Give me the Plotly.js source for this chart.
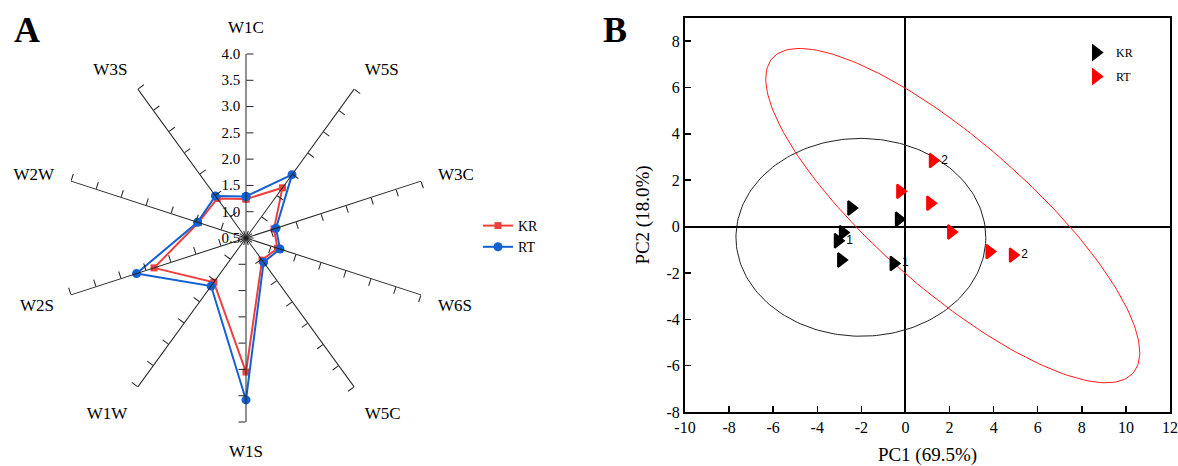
<!DOCTYPE html>
<html>
<head>
<meta charset="utf-8">
<script src="https://cdn.plot.ly/plotly-3.0.1.min.js"></script>
<style>html,body{margin:0;padding:0;background:#fff;}#chart{width:1178px;height:466px;}</style>
</head>
<body>
<div id="chart"></div>
<script>
// ---------- Panel A: radar (electronic nose sensors) ----------
const categories = ['W1C','W5S','W3C','W6S','W5C','W1S','W1W','W2S','W2W','W3S'];
const radarKR = [1.24, 1.68, 1.06, 1.13, 1.02, 3.05, 1.54, 2.34, 1.45, 1.43];
const radarRT = [1.29, 1.99, 1.10, 1.18, 1.07, 3.58, 1.63, 2.69, 1.47, 1.49];
const radialTicks = [0.5, 1.0, 1.5, 2.0, 2.5, 3.0, 3.5, 4.0];
const radialTickText = ['0.5','1.0','1.5','2.0','2.5','3.0','3.5','4.0'];

// ---------- Panel B: PCA scores ----------
const krPC1 = [-2.46, -0.30, -2.84, -3.07, -2.92, -0.54];
const krPC2 = [ 0.80,  0.32, -0.26, -0.61, -1.44, -1.59];
const krLabels = ['', '', '', '1', '', '1'];
const rtPC1 = [1.24, -0.24, 1.12, 2.07, 3.81, 4.87];
const rtPC2 = [2.85,  1.52, 1.01, -0.23, -1.08, -1.23];
const rtLabels = ['2', '', '', '', '', '2'];
const pc1Ticks = [-10, -8, -6, -4, -2, 0, 2, 4, 6, 8, 10, 12];
const pc1TickText = ['-10','-8','-6','-4','-2','0','2','4','6','8','10','12'];
const pc2Ticks = [-8, -6, -4, -2, 0, 2, 4, 6, 8];
const pc2TickText = ['-8','-6','-4','-2','0','2','4','6','8'];
const pc1Title = 'PC1 (69.5%)';
const pc2Title = 'PC2 (18.0%)';
const seriesNames = ['KR', 'RT'];

const SERIF = 'Liberation Serif, Times New Roman, serif';
const W = 1178, H = 466;
const redA = '#ee3f3f', blueA = '#1360d2';

// 95% prediction ellipse computed from the scores
function predictionEllipse(xs, ys) {
  const n = xs.length;
  const mx = xs.reduce((a, b) => a + b, 0) / n;
  const my = ys.reduce((a, b) => a + b, 0) / n;
  let sxx = 0, syy = 0, sxy = 0;
  for (let i = 0; i < n; i++) {
    sxx += (xs[i] - mx) ** 2; syy += (ys[i] - my) ** 2; sxy += (xs[i] - mx) * (ys[i] - my);
  }
  sxx /= (n - 1); syy /= (n - 1); sxy /= (n - 1);
  const d2 = n - 2;
  const F = (d2 / 2) * (Math.pow(0.05, -2 / d2) - 1);
  const k = Math.sqrt(2 * (n - 1) * (n + 1) / (n * (n - 2)) * F);
  const a = Math.sqrt(sxx), b = sxy / a, c = Math.sqrt(Math.max(syy - b * b, 0));
  const ex = [], ey = [];
  for (let j = 0; j <= 200; j++) {
    const t = 2 * Math.PI * j / 200;
    ex.push(mx + k * a * Math.cos(t));
    ey.push(my + k * (b * Math.cos(t) + c * Math.sin(t)));
  }
  return {x: ex, y: ey};
}

// ---- polar geometry (pixels) ----
const cx = 246, cy = 238, R = 184;
const polarDomain = {
  x: [(cx - R) / W, (cx + R) / W],
  y: [(H - cy - R) / H, (H - cy + R) / H]
};

const traces = [];
const layout = {
  width: W, height: H,
  margin: {l: 0, r: 0, t: 0, b: 0},
  paper_bgcolor: '#fff', plot_bgcolor: '#fff',
  font: {family: SERIF, color: '#000'},
  showlegend: true
};

// overlay polar subplots: one per spoke (except W1C, which is the main radial axis)
const N = categories.length;
for (let i = 1; i < N; i++) {
  const id = 'polar' + (i + 1);
  const absAngle = 90 - i * 360 / N;
  layout[id] = {
    domain: polarDomain,
    bgcolor: 'rgba(0,0,0,0)',
    angularaxis: {visible: false, showgrid: false, rotation: 90, direction: 'clockwise'},
    radialaxis: {
      range: [radialTicks[0], radialTicks[radialTicks.length - 1]],
      angle: absAngle, tickvals: radialTicks, showticklabels: false,
      ticks: 'inside', ticklen: 7, tickwidth: 1, tickcolor: '#222',
      showline: true, linecolor: '#222', linewidth: 1, showgrid: false,
      side: 'counterclockwise'
    }
  };
  traces.push({type: 'scatterpolar', subplot: id, r: [radialTicks[0]], theta: [0],
    mode: 'markers', marker: {opacity: 0}, hoverinfo: 'skip', showlegend: false});
}

layout.polar = {
  domain: polarDomain,
  bgcolor: 'rgba(0,0,0,0)',
  angularaxis: {
    type: 'category', categoryorder: 'array', categoryarray: categories,
    rotation: 90, direction: 'clockwise',
    showline: false, showgrid: false,
    ticks: 'outside', ticklen: 14, tickcolor: 'rgba(0,0,0,0)',
    tickfont: {family: SERIF, size: 17, color: '#000'}
  },
  radialaxis: {
    range: [radialTicks[0], radialTicks[radialTicks.length - 1]],
    angle: 90, tickvals: radialTicks, ticktext: radialTickText,
    tickangle: 90,
    ticks: 'inside', ticklen: 7, tickwidth: 1, tickcolor: '#222',
    showline: true, linecolor: '#222', linewidth: 1, showgrid: false,
    side: 'counterclockwise',
    tickfont: {family: SERIF, size: 15, color: '#000'}
  }
};

// ---- Panel B traces ----
const ellKR = predictionEllipse(krPC1, krPC2);
const ellRT = predictionEllipse(rtPC1, rtPC2);
traces.push({type: 'scatter', x: ellKR.x, y: ellKR.y, mode: 'lines',
  line: {color: '#222', width: 1}, hoverinfo: 'skip', showlegend: false});
traces.push({type: 'scatter', x: ellRT.x, y: ellRT.y, mode: 'lines',
  line: {color: '#ff1a1a', width: 1}, hoverinfo: 'skip', showlegend: false});
traces.push({type: 'scatter', name: seriesNames[0], x: krPC1, y: krPC2, text: krLabels,
  mode: 'markers+text', textposition: 'middle right',
  textfont: {family: 'Liberation Sans, Arial, sans-serif', size: 12, color: '#000'},
  marker: {symbol: 'triangle-right', size: 12, color: '#000', line: {color: '#000', width: 2}},
  legend: 'legend2', legendgroup: 'b1'});
traces.push({type: 'scatter', name: seriesNames[1], x: rtPC1, y: rtPC2, text: rtLabels,
  mode: 'markers+text', textposition: 'middle right',
  textfont: {family: 'Liberation Sans, Arial, sans-serif', size: 12, color: '#000'},
  marker: {symbol: 'triangle-right', size: 12, color: '#ff0000', line: {color: '#ff0000', width: 2}},
  legend: 'legend2', legendgroup: 'b2'});

// ---- Panel A data traces (closed loops) ----
traces.push({type: 'scatterpolar', subplot: 'polar', name: seriesNames[0],
  r: radarKR.concat([radarKR[0]]), theta: categories.concat([categories[0]]),
  mode: 'lines+markers', line: {color: redA, width: 2},
  marker: {symbol: 'square', size: 7, color: redA}, legend: 'legend'});
traces.push({type: 'scatterpolar', subplot: 'polar', name: seriesNames[1],
  r: radarRT.concat([radarRT[0]]), theta: categories.concat([categories[0]]),
  mode: 'lines+markers', line: {color: blueA, width: 2},
  marker: {symbol: 'circle', size: 9, color: blueA}, legend: 'legend'});

// ---- Panel B axes ----
const xL = 685, xR = 1170, yT = 18, yB = 412;
layout.xaxis = {
  domain: [xL / W, xR / W], range: [-10, 12], tickvals: pc1Ticks, ticktext: pc1TickText,
  ticks: 'inside', ticklen: 6, tickwidth: 1.5, tickcolor: '#000',
  showline: true, linecolor: '#000', linewidth: 2, mirror: true,
  zeroline: true, zerolinecolor: '#000', zerolinewidth: 2, showgrid: false,
  tickfont: {family: SERIF, size: 16, color: '#000'},
  title: {text: pc1Title, font: {family: SERIF, size: 19, color: '#000'}, standoff: 14},
  anchor: 'y'
};
layout.yaxis = {
  domain: [(H - yB) / H, (H - yT) / H], range: [-8, 9], tickvals: pc2Ticks, ticktext: pc2TickText,
  ticks: 'inside', ticklen: 6, tickwidth: 1.5, tickcolor: '#000',
  showline: true, linecolor: '#000', linewidth: 2, mirror: true,
  zeroline: true, zerolinecolor: '#000', zerolinewidth: 2, showgrid: false,
  tickfont: {family: SERIF, size: 16, color: '#000'},
  title: {text: pc2Title, font: {family: SERIF, size: 19, color: '#000'}, standoff: 12},
  anchor: 'x'
};

layout.legend = {x: 478 / W, xanchor: 'left', y: (H - 210) / H, yanchor: 'top',
  bgcolor: 'rgba(0,0,0,0)', font: {family: SERIF, size: 14, color: '#000'}, tracegroupgap: 0};
layout.legend2 = {x: 1076 / W, xanchor: 'left', y: (H - 38) / H, yanchor: 'top',
  bgcolor: 'rgba(0,0,0,0)', font: {family: SERIF, size: 12, color: '#000'},
  tracegroupgap: 5, traceorder: 'grouped'};

layout.annotations = [
  {text: '<b>A</b>', xref: 'paper', yref: 'paper', x: 27 / W, y: (H - 30) / H,
   xanchor: 'center', yanchor: 'middle', showarrow: false, font: {family: SERIF, size: 36, color: '#000'}},
  {text: '<b>B</b>', xref: 'paper', yref: 'paper', x: 615 / W, y: (H - 30) / H,
   xanchor: 'center', yanchor: 'middle', showarrow: false, font: {family: SERIF, size: 36, color: '#000'}}
];

Plotly.newPlot('chart', traces, layout, {displayModeBar: false, staticPlot: true});
</script>
</body>
</html>
